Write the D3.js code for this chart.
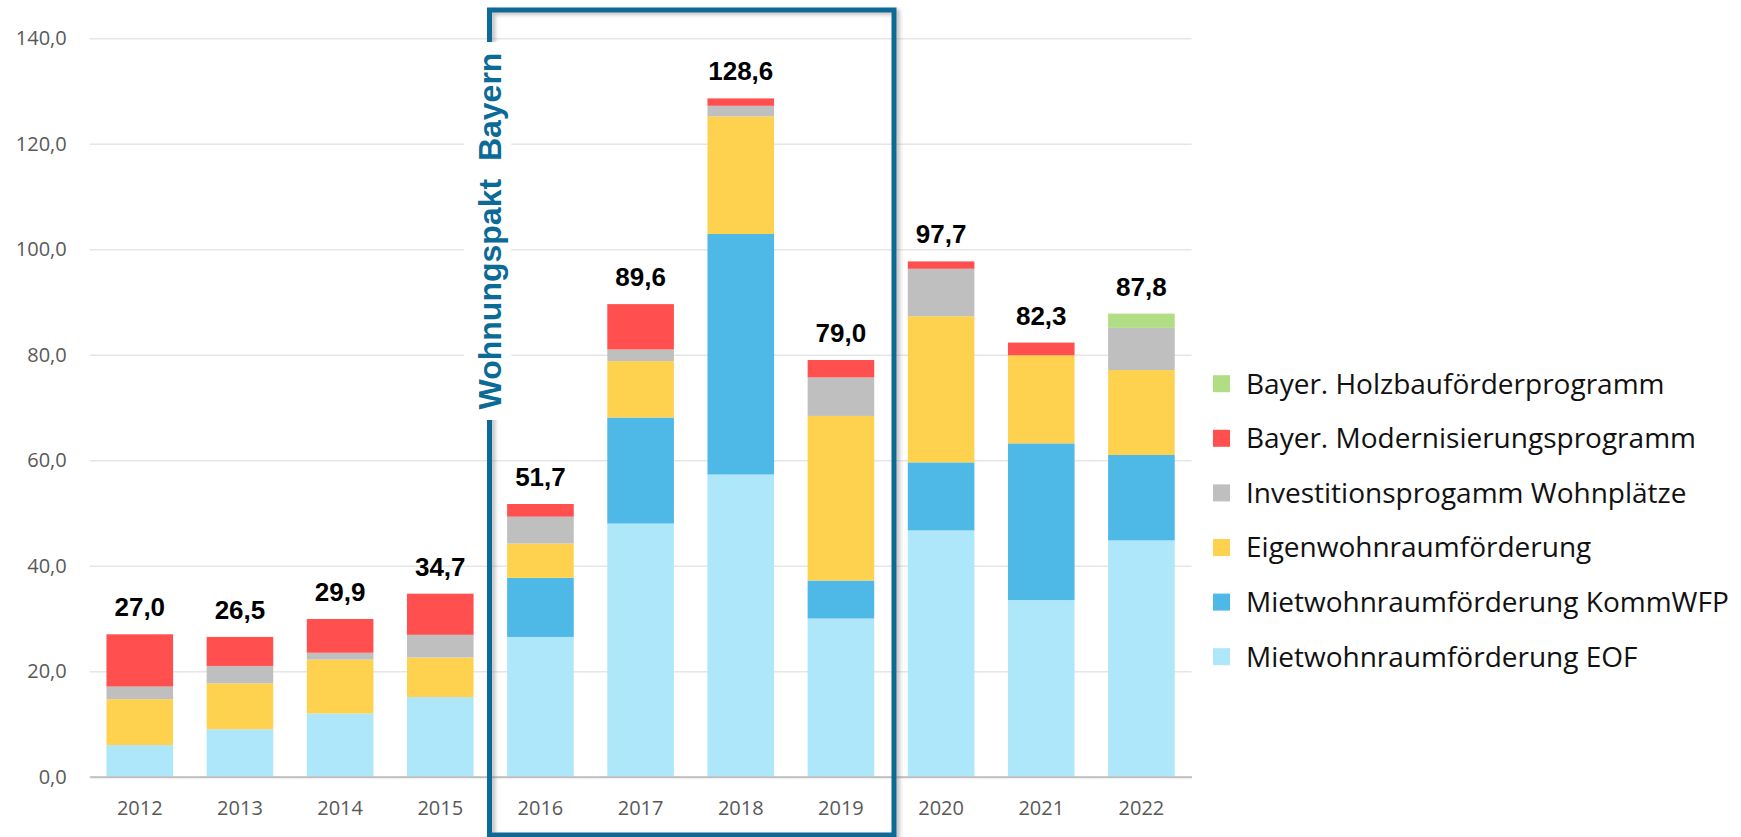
<!DOCTYPE html>
<html>
<head>
    <meta charset="utf-8">
    <title>Wohnraumförderung Bayern</title>
    <script src="https://d3js.org/d3.v7.min.js"></script>
    <style>
        body { margin: 0; background: #fff; }
        svg { display: block; }
    </style>
</head>
<body>
    <div id="chart"></div>

    <script>
        // Jahre (Kategorien)
        var years = ["2012", "2013", "2014", "2015", "2016", "2017", "2018", "2019", "2020", "2021", "2022"];

        // Werte je Programm (Mio. Euro), von unten nach oben gestapelt
        var eof     = [6.0, 9.0, 12.0, 15.1, 26.5, 48.0, 57.3, 30.0, 46.7, 33.5, 44.8];
        var kommwfp = [0, 0, 0, 0, 11.2, 20.1, 45.6, 7.2, 12.9, 29.7, 16.2];
        var eigen   = [8.7, 8.7, 10.2, 7.5, 6.5, 10.7, 22.3, 31.2, 27.7, 16.7, 16.1];
        var invest  = [2.4, 3.3, 1.3, 4.3, 5.1, 2.2, 2.0, 7.3, 9.0, 0, 8.0];
        var modern  = [9.9, 5.5, 6.4, 7.8, 2.4, 8.6, 1.4, 3.3, 1.4, 2.4, 0];
        var holz    = [0, 0, 0, 0, 0, 0, 0, 0, 0, 0, 2.7];

        // Summen über den Balken
        var totals = [27.0, 26.5, 29.9, 34.7, 51.7, 89.6, 128.6, 79.0, 97.7, 82.3, 87.8];

        // Achsenbeschriftung
        var yTicks = [0, 20, 40, 60, 80, 100, 120, 140];

        var seriesNames = [
            "Mietwohnraumförderung EOF",
            "Mietwohnraumförderung KommWFP",
            "Eigenwohnraumförderung",
            "Investitionsprogamm Wohnplätze",
            "Bayer. Modernisierungsprogramm",
            "Bayer. Holzbauförderprogramm"
        ];
        var seriesValues = [eof, kommwfp, eigen, invest, modern, holz];
        var colors = ["#AEE6FA", "#4EB8E7", "#FED24E", "#BFBFBF", "#FF4F4F", "#B1DD84"];

        var width = 1741;
        var height = 837;

        var de = d3.formatLocale({ decimal: ",", thousands: ".", grouping: [3], currency: ["", " €"] });
        var fmt = de.format(".1f");

        // Tabelle für d3.stack
        var keys = seriesNames;
        var table = years.map(function(y, i) {
            var row = { year: y, total: totals[i] };
            keys.forEach(function(k, j) { row[k] = seriesValues[j][i]; });
            return row;
        });

        var svg = d3.select("#chart")
            .append("svg")
            .attr("width", width)
            .attr("height", height);

        var defs = svg.append("defs");
        var shadow = defs.append("filter").attr("id", "shadow")
            .attr("x", "-5%").attr("y", "-5%").attr("width", "110%").attr("height", "110%");
        shadow.append("feDropShadow")
            .attr("dx", 3).attr("dy", 2).attr("stdDeviation", 2)
            .attr("flood-color", "#777").attr("flood-opacity", 0.5);

        var x = d3.scaleBand()
            .domain(years)
            .range([89.7, 1191.5])
            .paddingInner(0.335)
            .paddingOuter(0.1675);

        var y = d3.scaleLinear()
            .domain([0, 140])
            .range([776.7, 38.3]);

        // Gitterlinien + y-Achse
        var yAxis = svg.append("g")
            .attr("transform", "translate(" + x.range()[0] + ",0)")
            .call(d3.axisLeft(y)
                .tickValues(yTicks)
                .tickSize(-(x.range()[1] - x.range()[0]))
                .tickPadding(23)
                .tickFormat(fmt));
        yAxis.select(".domain").remove();
        yAxis.selectAll(".tick line")
            .attr("stroke", "#E6E6E6")
            .attr("stroke-width", 1.5);
        yAxis.selectAll(".tick text")
            .attr("fill", "#595959")
            .style("font-family", "'Open Sans', sans-serif")
            .style("font-size", "20px");

        // gestapelte Balken
        var stack = d3.stack().keys(keys);
        var layers = stack(table);

        svg.append("g")
            .selectAll("g")
            .data(layers)
            .enter()
            .append("g")
            .attr("fill", function(d, i) { return colors[i]; })
            .selectAll("rect")
            .data(function(d) { return d; })
            .enter()
            .append("rect")
            .attr("x", function(d) { return x(d.data.year); })
            .attr("y", function(d) { return y(d[1]); })
            .attr("width", x.bandwidth())
            .attr("height", function(d) { return y(d[0]) - y(d[1]); });

        // x-Achse
        var xAxis = svg.append("g")
            .attr("transform", "translate(0," + y(0) + ")")
            .call(d3.axisBottom(x).tickSize(0).tickSizeOuter(0).tickPadding(24));
        xAxis.select(".domain")
            .attr("stroke", "#BFBFBF")
            .attr("stroke-width", 2);
        xAxis.selectAll(".tick text")
            .attr("fill", "#595959")
            .style("font-family", "'Open Sans', sans-serif")
            .style("font-size", "20px");

        // Summen
        svg.append("g")
            .selectAll("text")
            .data(table)
            .enter()
            .append("text")
            .attr("x", function(d) { return x(d.year) + x.bandwidth() / 2; })
            .attr("y", function(d) { return y(d.total) - 18; })
            .attr("text-anchor", "middle")
            .style("font-family", "'Liberation Sans', Arial, sans-serif")
            .style("font-weight", "bold")
            .style("font-size", "26px")
            .attr("fill", "#000")
            .text(function(d) { return fmt(d.total); });

        // Rahmen "Wohnungspakt Bayern"
        svg.append("rect")
            .attr("x", 489.5)
            .attr("y", 10)
            .attr("width", 404.5)
            .attr("height", 825)
            .attr("fill", "none")
            .attr("stroke", "#0C6A96")
            .attr("stroke-width", 5)
            .attr("filter", "url(#shadow)");

        svg.append("rect")
            .attr("x", 464)
            .attr("y", 42)
            .attr("width", 47)
            .attr("height", 378)
            .attr("fill", "#fff");

        svg.append("text")
            .attr("transform", "translate(500.5,231) rotate(-90)")
            .attr("text-anchor", "middle")
            .style("white-space", "pre")
            .style("font-family", "'Liberation Sans', Arial, sans-serif")
            .style("font-weight", "bold")
            .style("font-size", "32px")
            .attr("fill", "#0C6A96")
            .text("Wohnungspakt  Bayern");

        // Legende
        var legendOrder = seriesNames.slice().reverse();
        var legend = svg.append("g")
            .selectAll("g")
            .data(legendOrder)
            .enter()
            .append("g")
            .attr("transform", function(d, i) { return "translate(1213," + (383.7 + i * 54.6) + ")"; });

        legend.append("rect")
            .attr("x", 0)
            .attr("y", -8.5)
            .attr("width", 17)
            .attr("height", 17)
            .attr("fill", function(d) { return colors[seriesNames.indexOf(d)]; });

        legend.append("text")
            .attr("x", 33)
            .attr("dy", "0.35em")
            .style("font-family", "'Open Sans', sans-serif")
            .style("font-size", "28px")
            .attr("fill", "#111")
            .text(function(d) { return d; });
    </script>
</body>
</html>
